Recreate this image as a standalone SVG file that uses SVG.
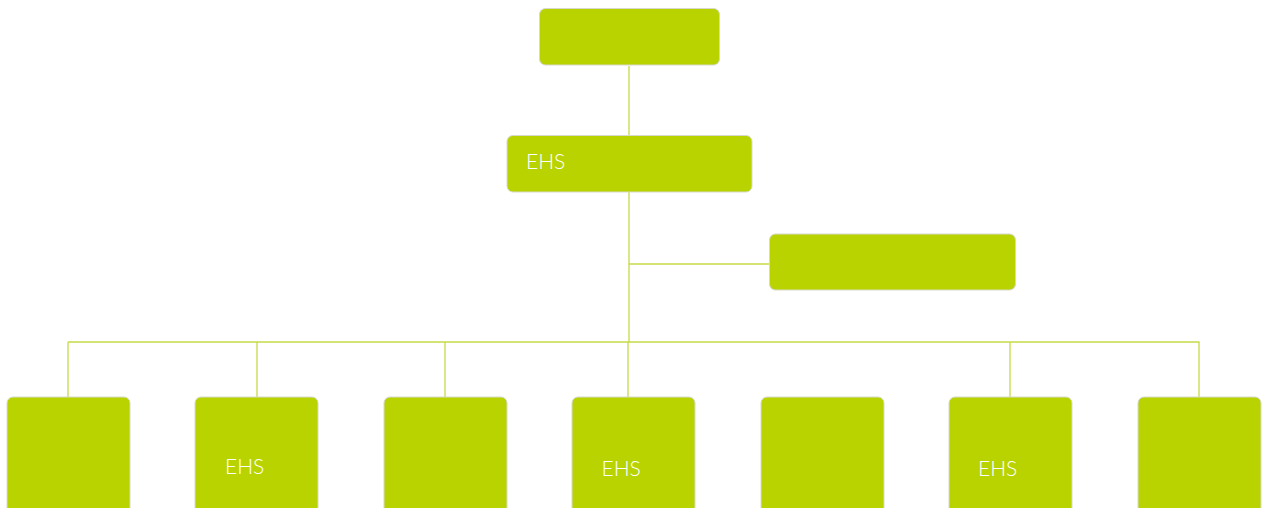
<svg xmlns="http://www.w3.org/2000/svg" width="1266" height="508" viewBox="0 0 1266 508">
<style>
.box{fill:#b9d300;stroke:#d6d9cc;stroke-width:1}
.lbl{fill:#ffffff;font-family:Lato,"Open Sans","Liberation Sans",sans-serif;font-size:21px;font-weight:300}
.con{stroke:#c6da45;stroke-width:1.3;fill:none}
</style>
<rect width="1266" height="508" fill="#ffffff"/>
<g id="connectors">
<line class="con" x1="629" y1="66" x2="629" y2="135"/>
<line class="con" x1="629" y1="192" x2="629" y2="342"/>
<line class="con" x1="629" y1="264" x2="770" y2="264"/>
<line class="con" x1="68" y1="342" x2="1199.5" y2="342"/>
<line class="con" x1="68" y1="342" x2="68" y2="397"/>
<line class="con" x1="257" y1="342" x2="257" y2="397"/>
<line class="con" x1="445" y1="342" x2="445" y2="397"/>
<line class="con" x1="628" y1="342" x2="628" y2="397"/>
<line class="con" x1="1010" y1="342" x2="1010" y2="397"/>
<line class="con" x1="1199" y1="342" x2="1199" y2="397"/>
</g>
<g id="n-top"><rect class="box" x="539.5" y="8.5" width="180" height="56.5" rx="6"/></g>
<g id="n-ehs"><rect class="box" x="507" y="135.5" width="245" height="56.5" rx="6"/><text class="lbl" x="526" y="169">EHS</text></g>
<g id="n-side"><rect class="box" x="769.5" y="234" width="246" height="56" rx="6"/></g>
<g id="n-b1"><rect class="box" x="7" y="397" width="123" height="125" rx="6"/></g>
<g id="n-b2"><rect class="box" x="195" y="397" width="123" height="125" rx="6"/><text class="lbl" x="225" y="474">EHS</text></g>
<g id="n-b3"><rect class="box" x="384" y="397" width="123" height="125" rx="6"/></g>
<g id="n-b4"><rect class="box" x="572" y="397" width="123" height="125" rx="6"/><text class="lbl" x="601.5" y="476">EHS</text></g>
<g id="n-b5"><rect class="box" x="761" y="397" width="123" height="125" rx="6"/></g>
<g id="n-b6"><rect class="box" x="949" y="397" width="123" height="125" rx="6"/><text class="lbl" x="978" y="476">EHS</text></g>
<g id="n-b7"><rect class="box" x="1138" y="397" width="123" height="125" rx="6"/></g>
</svg>
